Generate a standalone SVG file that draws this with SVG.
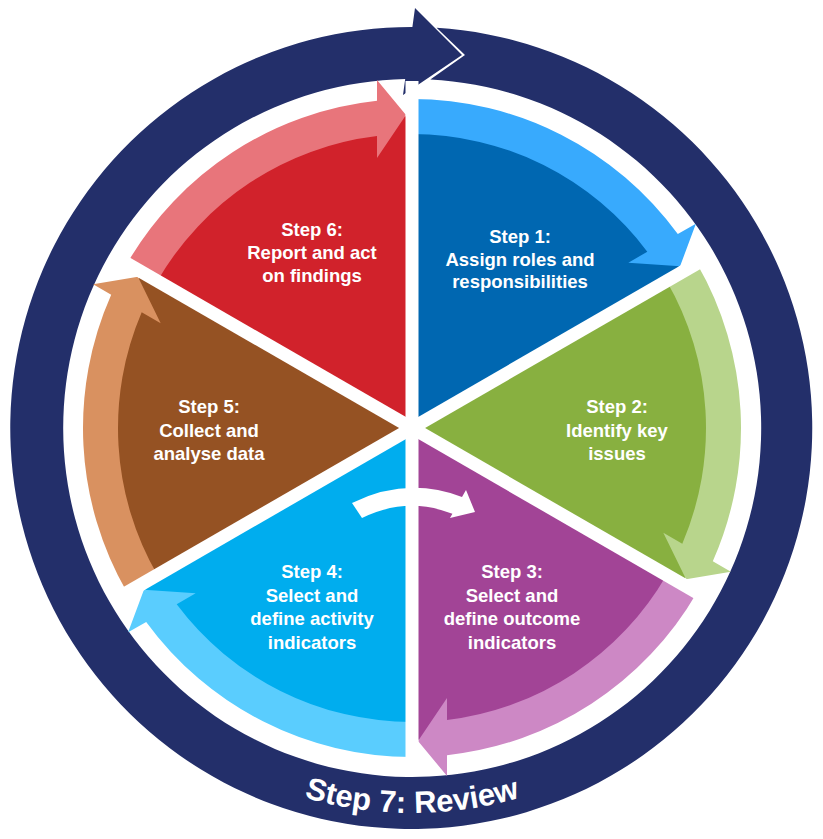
<svg xmlns="http://www.w3.org/2000/svg" xmlns:xlink="http://www.w3.org/1999/xlink" width="823" height="839" viewBox="0 0 823 839">
<defs>
<path id="sector" d="M412,428 L141.8,272 A312,312 0 0 1 412,116 Z"/>
<path id="band" d="M127.08,263.5 A329,329 0 0 1 377,100.87 L377,80 L406,115 L377,158 L377,136.09 A294,294 0 0 0 157.39,281 Z"/>
<path id="reviewPath" d="M78.6,620.5 A385,385 0 0 0 745.4,620.5"/>
</defs>
<style>
.lbl{font-family:"Liberation Sans",Arial,Helvetica,sans-serif;font-weight:bold;font-size:18.5px;fill:#ffffff;text-anchor:middle}
.gap{stroke:#ffffff;stroke-width:13;fill:none}
.review{font-family:"Liberation Sans",Arial,Helvetica,sans-serif;font-weight:bold;font-size:31px;fill:#ffffff}
</style>
<rect width="823" height="839" fill="#ffffff"/>
<g id="step7">
<path d="M436.6,27.8 A401,401 0 1 1 412.4,27 L415,8 L462,55 L403,95 L405.2,79.1 A349,349 0 1 0 430.3,79.5 L465,55 Z" fill="#232F6A"/>
<text class="review"><textPath xlink:href="#reviewPath" href="#reviewPath" startOffset="50%" text-anchor="middle">Step 7: Review</textPath></text>
</g>
<g id="step1">
<g transform="rotate(60 412 428)"><use href="#sector" xlink:href="#sector" fill="#0067B1"/><use href="#band" xlink:href="#band" fill="#38AAFD"/></g>
</g>
<g id="step2">
<g transform="rotate(120 412 428)"><use href="#sector" xlink:href="#sector" fill="#88B040"/><use href="#band" xlink:href="#band" fill="#B8D58C"/></g>
</g>
<g id="step3">
<g transform="rotate(180 412 428)"><use href="#sector" xlink:href="#sector" fill="#A24496"/><use href="#band" xlink:href="#band" fill="#CD88C5"/></g>
</g>
<g id="step4">
<g transform="rotate(240 412 428)"><use href="#sector" xlink:href="#sector" fill="#00ADEE"/><use href="#band" xlink:href="#band" fill="#5ACDFE"/></g>
</g>
<g id="step5">
<g transform="rotate(300 412 428)"><use href="#sector" xlink:href="#sector" fill="#955223"/><use href="#band" xlink:href="#band" fill="#D99160"/></g>
</g>
<g id="step6">
<use href="#sector" xlink:href="#sector" fill="#D1222B"/><use href="#band" xlink:href="#band" fill="#E8757B"/>
</g>
<g id="gaps">
<line class="gap" x1="412" y1="81" x2="412" y2="775"/>
<line class="gap" x1="712.5" y1="254.5" x2="111.5" y2="601.5"/>
<line class="gap" x1="712.5" y1="601.5" x2="111.5" y2="254.5"/>
</g>
<g id="labels">
<text class="lbl"><tspan x="520" y="243">Step 1:</tspan><tspan x="520" y="265.5">Assign roles and</tspan><tspan x="520" y="288">responsibilities</tspan></text>
<text class="lbl"><tspan x="617" y="413">Step 2:</tspan><tspan x="617" y="436.5">Identify key</tspan><tspan x="617" y="460">issues</tspan></text>
<text class="lbl"><tspan x="512" y="578">Step 3:</tspan><tspan x="512" y="601.5">Select and</tspan><tspan x="512" y="625">define outcome</tspan><tspan x="512" y="649">indicators</tspan></text>
<text class="lbl"><tspan x="312" y="578">Step 4:</tspan><tspan x="312" y="601.5">Select and</tspan><tspan x="312" y="625">define activity</tspan><tspan x="312" y="649">indicators</tspan></text>
<text class="lbl"><tspan x="209" y="413">Step 5:</tspan><tspan x="209" y="436.5">Collect and</tspan><tspan x="209" y="460">analyse data</tspan></text>
<text class="lbl"><tspan x="312" y="236">Step 6:</tspan><tspan x="312" y="259">Report and act</tspan><tspan x="312" y="282">on findings</tspan></text>
</g>
<g id="connectors">
<path d="M352,503 Q407,476 462,497 L466,490 L475,512 L450,518 L452.4,513.8 Q407,496 362,518 Z" fill="#ffffff"/>
</g>
</svg>
